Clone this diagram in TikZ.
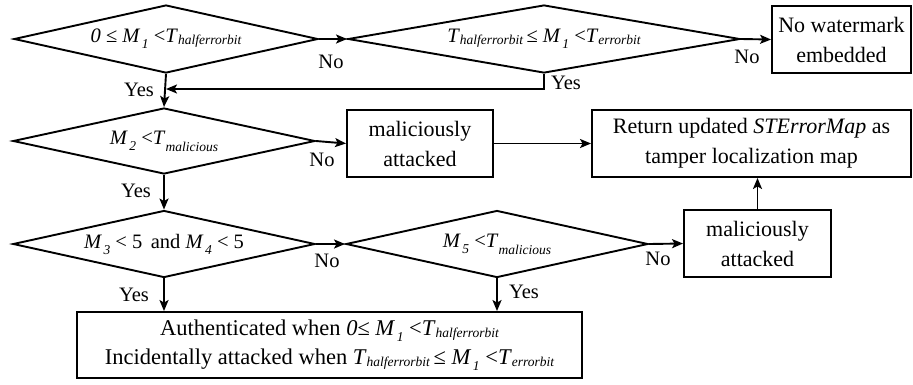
\documentclass[tikz,border=0pt]{standalone}
\usepackage{fontspec}
\setmainfont{Liberation Serif}
\usetikzlibrary{shapes.geometric,arrows.meta}

% lowered italic index, optional drop
\newcommand\lsub[2][4pt]{\raisebox{-#1}{\fontsize{13.5}{13.5}\selectfont\itshape #2}}
\newcommand\vM[1]{\textit{M}\kern1.5pt\lsub[6pt]{#1}}
\newcommand\vT[2][2pt]{\textit{T}\lsub[#1]{#2}}

\tikzset{
  dec/.style={draw, shape=diamond, line width=1.9pt, inner sep=0pt, aspect=5,
    font=\fontsize{20.5}{24}\selectfont},
  box/.style={draw, rectangle, line width=1.9pt, align=center, inner sep=0pt,
    font=\fontsize{22}{30}\selectfont},
  lbl/.style={inner sep=0pt, font=\fontsize{20.5}{24}\selectfont},
  flow/.style={line width=1.9pt, -{Stealth[length=11pt,width=9pt,inset=2.5pt]}},
}

\begin{document}
\begin{tikzpicture}[x=1pt,y=-1pt]
\useasboundingbox (0,0) rectangle (913,384);

% decisions
\node[dec, minimum width=304pt, minimum height=68pt] (d1) at (166,39)
  {\textit{0} ≤ \vM{1} <\vT{halferrorbit}};
\node[dec, minimum width=392pt, minimum height=68pt] (d2) at (544,39)
  {\vT{halferrorbit}\,≤ \vM{1} <\vT{errorbit}};
\node[dec, minimum width=302pt, minimum height=66pt] (d3) at (164,141)
  {\vM{2} <\vT[7pt]{malicious}};
\node[dec, minimum width=302pt, minimum height=67pt] (d4) at (164,244)
  {\vM{3} < 5 \,and \vM{4} < 5};
\node[dec, minimum width=302pt, minimum height=67pt] (d5) at (497,244)
  {\vM{5} <\vT[7pt]{malicious}};

% outcomes
\node[box, minimum width=139pt, minimum height=67pt] (nowm) at (841.5,39.5)
  {No watermark\\embedded};
\node[box, minimum width=146pt, minimum height=67pt] (mal1) at (420,143.5)
  {maliciously\\attacked};
\node[box, minimum width=319pt, minimum height=67pt] (ret) at (751.5,143.5)
  {Return updated \textit{STErrorMap} as\\tamper localization map};
\node[box, minimum width=147pt, minimum height=67pt] (mal2) at (757.5,243.5)
  {maliciously\\attacked};
\node[box, minimum width=505pt, minimum height=66pt, font=\fontsize{22.5}{29}\selectfont]
  (final) at (329.5,345)
  {Authenticated when \textit{0}≤ \vM{1} <\vT{halferrorbit}\\
   Incidentally attacked when \vT{halferrorbit}\,≤ \vM{1} <\vT{errorbit}};

\coordinate (join) at (166,89);

% connectors
\draw[flow] (d1.east) -- (d2.west);
\draw[flow] (d2.east) -- (nowm.west);
\draw[flow] (d2.south) |- (join);
\draw[flow] (d1.south) -- (d3.north);
\draw[flow] (d3.east) -- (mal1.west);
\draw[flow] (mal1.east) -- (ret.west);
\draw[flow] (d3.south) -- (d4.north);
\draw[flow] (d4.east) -- (d5.west);
\draw[flow] (d5.east) -- (mal2.west);
\draw[flow] (mal2.north) -- (mal2.north |- ret.south);
\draw[flow] (d4.south) -- (d4.south |- final.north);
\draw[flow] (d5.south) -- (d5.south |- final.north);

% branch labels
\node[lbl] (no1) at (331,62) {No};
\node[lbl] (no2) at (747,57) {No};
\node[lbl] (no3) at (322,160) {No};
\node[lbl] (no4) at (327,261) {No};
\node[lbl] (no5) at (658,259) {No};
\node[lbl] (yes1) at (139,90) {Yes};
\node[lbl] (yes2) at (566,83) {Yes};
\node[lbl] (yes3) at (136,191) {Yes};
\node[lbl] (yes4) at (134,295) {Yes};
\node[lbl] (yes5) at (524,292) {Yes};
\end{tikzpicture}
\end{document}
